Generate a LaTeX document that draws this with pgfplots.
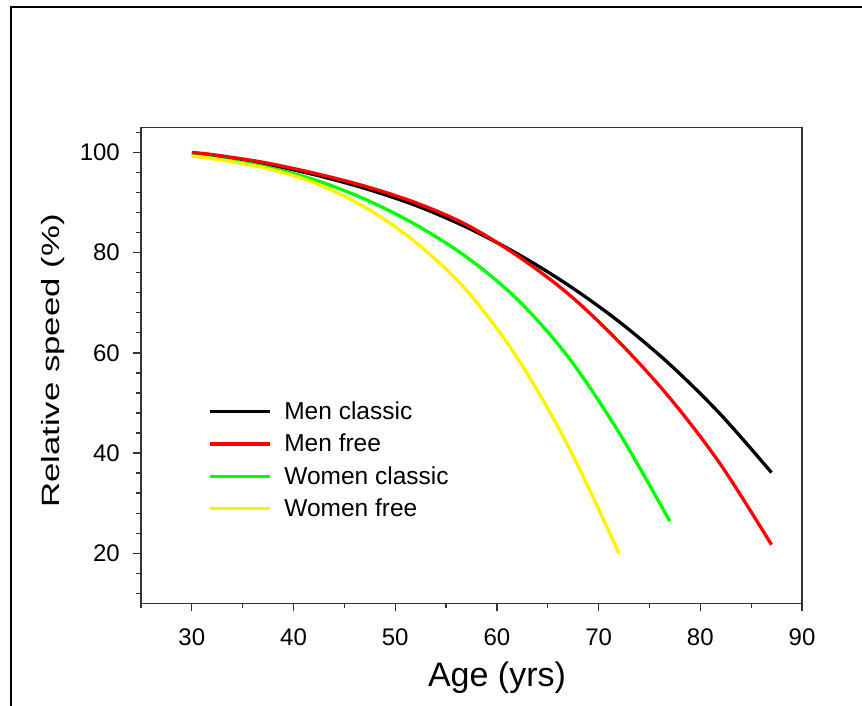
\documentclass[border=0pt]{standalone}
\usepackage{pgfplots}
\pgfplotsset{compat=1.18}
\usepackage{fontspec}
\setmainfont{Liberation Sans}
\begin{document}
\begin{tikzpicture}[x=1pt,y=1pt]
\useasboundingbox (-141,-101.7) rectangle (721,603.3);
\draw[line width=2pt] (-130,-103) -- (-130,595.8) -- (723,595.8);
\begin{axis}[
  at={(0,0)}, anchor=south west,
  scale only axis, width=661pt, height=475.8pt,
  xmin=25, xmax=90, ymin=10, ymax=105,
  xtick={30,40,...,90}, minor xtick={25,35,...,85},
  ytick={20,40,...,100},
  minor ytick={12,16,24,28,32,36,44,48,52,56,64,68,72,76,84,88,92,96,104},
  tick pos=left, tick align=outside,
  major tick length=8pt, minor tick length=5pt,
  axis line style={black!80, line width=1.3pt},
  tick style={black!80, line width=1.3pt},
  /pgf/number format/assume math mode=true,
  ticklabel style={font=\fontsize{24}{28}\selectfont},
  xticklabel style={anchor=base, yshift=-34pt},
  yticklabel style={anchor=east, inner sep=0pt, xshift=-13pt},
  xlabel={Age (yrs)},
  ylabel={\scalebox{1.39}[1]{Relative speed (\%)}},
  every axis x label/.style={at={(axis description cs:0.5386,-0.1753)}, anchor=base, font=\fontsize{34}{40}\selectfont},
  every axis y label/.style={at={(axis description cs:-0.1236,0.509)}, rotate=90, anchor=base, font=\fontsize{25}{30}\selectfont},
  every axis plot/.append style={line width=3.3pt, line join=round, smooth, tension=0.55},
  legend image code/.code={\draw[#1, line width=3.3pt, sharp plot] (0pt,7.8pt) -- (60pt,7.8pt);},
  legend style={at={(axis description cs:0.1014,0.4225)}, anchor=north west,
    draw=none, fill=none, inner sep=0pt, outer sep=0pt, row sep=10.4pt,
    font=\fontsize{24.5}{28}\selectfont,
    cells={anchor=base west},
    nodes={inner sep=0pt, text height=17pt, text depth=5pt, anchor=base west},
    /tikz/every odd column/.append style={column sep=13pt}},
]
\addplot[black] coordinates {
(30,99.8) (32,99.4) (37,97.8) (42,95.6) (47,92.85) (52,89.45) (57,85.1) (62,79.8)
(67,73.55) (72,66.25) (77,57.7) (82,47.7) (87,36.1)};
\addlegendentry{Men classic}
\addplot[red] coordinates {
(30,100.0) (32,99.6) (37,98.05) (42,95.9) (47,93.3) (52,90.0) (57,85.6) (62,79.4)
(67,71.8) (72,62.2) (77,51.0) (82,37.7) (87,21.7)};
\addlegendentry{Men free}
\addplot[green] coordinates {
(30,99.3) (32,98.9) (37,97.25) (42,94.6) (47,90.7) (52,85.6) (57,79.15) (62,70.7)
(67,59.2) (72,44.1) (77,26.4)};
\addlegendentry{Women classic}
\addplot[yellow] coordinates {
(30,99.3) (32,98.8) (37,97.0) (42,94.0) (47,89.1) (52,82.1) (57,72.5) (62,59.0)
(67,41.4) (72,20.0)};
\addlegendentry{Women free}
\end{axis}
\end{tikzpicture}
\end{document}
